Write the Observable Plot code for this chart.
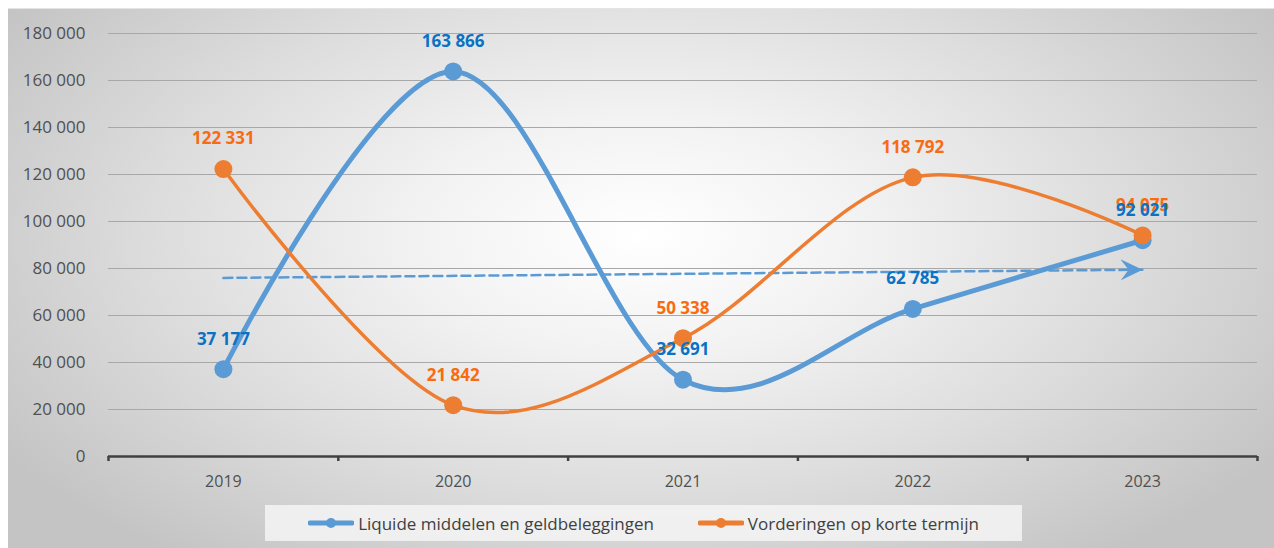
<!DOCTYPE html>
<html>
<head>
<meta charset="utf-8">
<script src="https://cdn.jsdelivr.net/npm/d3@7"></script>
<script src="https://cdn.jsdelivr.net/npm/@observablehq/plot@0.6"></script>
<style>
  html, body { margin: 0; padding: 0; background: #ffffff; }
  #frame {
    position: absolute; left: 8px; top: 8px; width: 1266px; height: 540px;
    background: radial-gradient(ellipse 60% 75% at 50% 42%, #ffffff 0%, #f2f2f2 30%, #dcdcdc 65%, #c4c4c4 100%);
    border-top: 1px solid #e4e4e4;
    box-sizing: border-box;
    font-family: "Open Sans", sans-serif;
  }
  #chart svg { display: block; }
  #legend {
    position: absolute; left: 257px; top: 496px; width: 757px; height: 36px;
    background: rgba(244,244,244,0.85);
    display: flex; align-items: center; justify-content: center; gap: 44px;
    font-size: 17px; color: #404040;
  }
  .item { display: flex; align-items: center; gap: 4px; }
</style>
</head>
<body>
<div id="frame">
  <div id="chart"></div>
  <div id="legend"></div>
</div>
<script>
// ---- data ----
const years = [2019, 2020, 2021, 2022, 2023];
const liquide = [37177, 163866, 32691, 62785, 92021];
const vorderingen = [122331, 21842, 50338, 118792, 94075];
const seriesNames = ["Liquide middelen en geldbeleggingen", "Vorderingen op korte termijn"];
const trendYears = [2019, 2023];
const trendValues = [76000, 79500];
const yTicks = [0, 20000, 40000, 60000, 80000, 100000, 120000, 140000, 160000, 180000];
const yearBounds = [2018.5, 2019.5, 2020.5, 2021.5, 2022.5, 2023.5];

const blue = "#5B9BD5", orange = "#ED7D31";
const blueText = "#0A72C4", orangeText = "#F96B10";

const liqRows = years.map((y, i) => ({year: y, value: liquide[i]}));
const vorRows = years.map((y, i) => ({year: y, value: vorderingen[i]}));
const trendRows = trendYears.map((y, i) => ({year: y, value: trendValues[i]}));

const fmt = v => d3.format(",")(v).replace(/,/g, " ");

function stealth(color, context) {
  const doc = (context && context.document) || document;
  const ns = "http://www.w3.org/2000/svg";
  const m = doc.createElementNS(ns, "marker");
  m.setAttribute("viewBox", "-22 -11 23 22");
  m.setAttribute("markerUnits", "userSpaceOnUse");
  m.setAttribute("markerWidth", "23");
  m.setAttribute("markerHeight", "22");
  m.setAttribute("refX", "0");
  m.setAttribute("refY", "0");
  m.setAttribute("orient", "auto");
  const p = doc.createElementNS(ns, "path");
  p.setAttribute("d", "M0,0L-22,-10.5L-14,0L-22,10.5Z");
  p.setAttribute("fill", color);
  p.setAttribute("stroke", "none");
  m.appendChild(p);
  return m;
}

const chart = Plot.plot({
  width: 1266,
  height: 490,
  marginLeft: 100,
  marginRight: 17,
  marginTop: 24,
  marginBottom: 43,
  style: {fontFamily: "'Open Sans', sans-serif", background: "transparent", overflow: "visible"},
  x: {type: "linear", domain: [2018.5, 2023.5], label: null},
  y: {domain: [0, 180000], label: null},
  marks: [
    Plot.gridY(yTicks.filter(v => v > 0), {stroke: "#a8a8a8", strokeOpacity: 1, strokeWidth: 1.2}),
    Plot.axisY(yTicks, {tickSize: 0, tickPadding: 23, tickFormat: fmt, fontSize: 17, fill: "#505050"}),
    Plot.axisX(years, {tickSize: 0, tickPadding: 19, tickFormat: d => String(d), fontSize: 16, fill: "#505050"}),
    Plot.axisX(yearBounds, {tickSize: 5, tickFormat: () => "", stroke: "#404040", strokeWidth: 2.5}),
    Plot.ruleY([0], {stroke: "#404040", strokeWidth: 2.5}),
    Plot.line(trendRows, {x: "year", y: "value", stroke: blue, strokeWidth: 2.5, strokeDasharray: "9,5", markerEnd: stealth}),
    Plot.line(liqRows, {x: "year", y: "value", stroke: blue, strokeWidth: 5, curve: "cardinal"}),
    Plot.dot(liqRows, {x: "year", y: "value", r: 9, fill: blue}),
    Plot.line(vorRows, {x: "year", y: "value", stroke: orange, strokeWidth: 3.5, curve: "cardinal"}),
    Plot.dot(vorRows, {x: "year", y: "value", r: 9, fill: orange}),
    Plot.text(vorRows, {x: "year", y: "value", text: d => fmt(d.value), dy: -30, fill: orangeText, fontSize: 17, fontWeight: "bold"}),
    Plot.text(liqRows, {x: "year", y: "value", text: d => fmt(d.value), dy: -30, fill: blueText, fontSize: 17, fontWeight: "bold"})
  ]
});
document.getElementById("chart").appendChild(chart);

// legend
const legend = document.getElementById("legend");
[[seriesNames[0], blue], [seriesNames[1], orange]].forEach(([name, color]) => {
  const item = document.createElement("div");
  item.className = "item";
  item.innerHTML = `<svg width="46" height="12"><line x1="2" y1="6" x2="44" y2="6" stroke="${color}" stroke-width="5" stroke-linecap="round"/><circle cx="23" cy="6" r="5" fill="${color}"/></svg><span>${name}</span>`;
  legend.appendChild(item);
});
</script>
</body>
</html>
